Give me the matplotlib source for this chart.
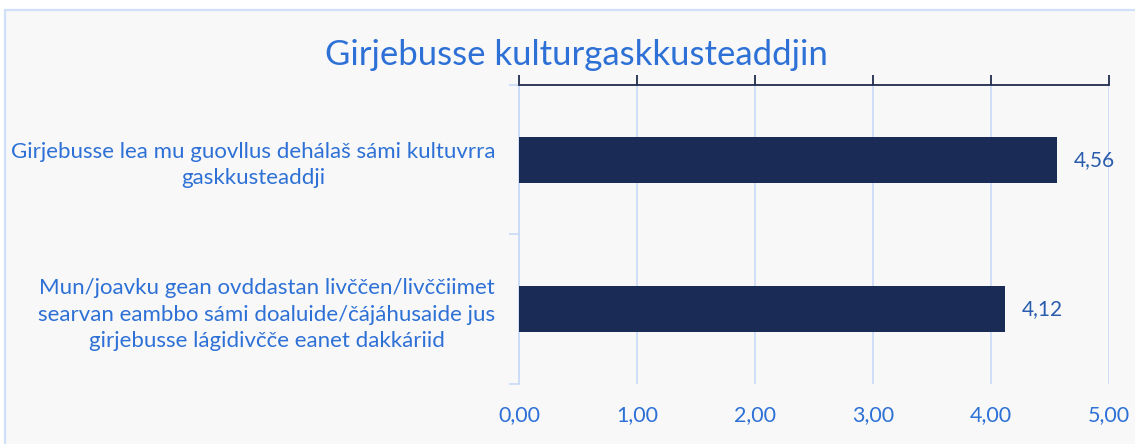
import matplotlib
matplotlib.use("Agg")
import matplotlib.pyplot as plt
from matplotlib.patches import Rectangle
from matplotlib.ticker import FuncFormatter, FixedLocator

# data
title = "Girjebusse kulturgaskkusteaddjin"
categories = [
    "Girjebusse lea mu guovllus dehálaš sámi kultuvrra\ngaskkusteaddji",
    "Mun/joavku gean ovddastan livččen/livččiimet\nsearvan eambbo sámi doaluide/čájáhusaide jus\ngirjebusse lágidivčče eanet dakkáriid",
]
values = [4.56, 4.12]
x_ticks = [0, 1, 2, 3, 4, 5]

plt.rcParams["font.family"] = ["Lato", "DejaVu Sans"]

bar_color = "#1a2c55"
grid_color = "#c9dbf7"
tick_color = "#2d70d6"
label_color = "#2a5cad"


def comma(v, pos=None):
    return f"{v:.2f}".replace(".", ",")


fig = plt.figure(figsize=(11.35, 4.44), dpi=100)
fig.patch.set_facecolor("white")
fig.patches.append(Rectangle((5 / 1135, -0.05), 1.1, (444 - 10) / 444 + 0.05,
                             transform=fig.transFigure, facecolor="#f8f8f8",
                             edgecolor="#cfe0f8", linewidth=1.6, zorder=-1))

ax = fig.add_axes([519 / 1135, 60 / 444, 590 / 1135, 299 / 444])
ax.set_facecolor("none")
ax.set_zorder(2)

ypos = list(range(len(categories)))
bars = ax.barh(ypos, values, height=0.31, color=bar_color, zorder=3)
ax.set_ylim(1.5, -0.5)
ax.set_xlim(0, 5)

ax.bar_label(bars, labels=[comma(v) for v in values], padding=12,
             color=label_color, fontsize=15)

ax.set_yticks(ypos)
ax.set_yticklabels(categories, multialignment="center", color=tick_color,
                   fontsize=16, linespacing=1.42)
ax.yaxis.set_minor_locator(FixedLocator([-0.5, 0.5, 1.5]))
ax.tick_params(axis="y", which="major", length=0, pad=17)
ax.tick_params(axis="y", which="minor", length=7, color=grid_color, width=1.2)

ax.xaxis.set_major_locator(FixedLocator(x_ticks))
ax.xaxis.set_major_formatter(FuncFormatter(comma))
ax.tick_params(axis="x", which="major", length=0, pad=15, colors=tick_color,
               labelsize=15.5)
ax.tick_params(axis="x", top=True, labeltop=False)

# top axis line with outward ticks
ax.grid(axis="x", color=grid_color, linewidth=1.2, zorder=0)
for s in ("right", "bottom"):
    ax.spines[s].set_visible(False)
ax.spines["left"].set_color(grid_color)
ax.spines["left"].set_linewidth(1.2)
ax.spines["top"].set_color("#1f2d4d")
ax.spines["top"].set_linewidth(1.3)
ax.spines["top"].set_zorder(4)
for t in ax.xaxis.get_major_ticks():
    t.tick2line.set_markersize(7)
    t.tick2line.set_markeredgecolor("#1f2d4d")
    t.tick2line.set_markeredgewidth(1.3)

fig.text(576 / 1135, 1 - 55 / 444, title, ha="center", va="center",
         color=tick_color, fontsize=25)

fig.savefig("out.png", dpi=100, facecolor=fig.get_facecolor())
